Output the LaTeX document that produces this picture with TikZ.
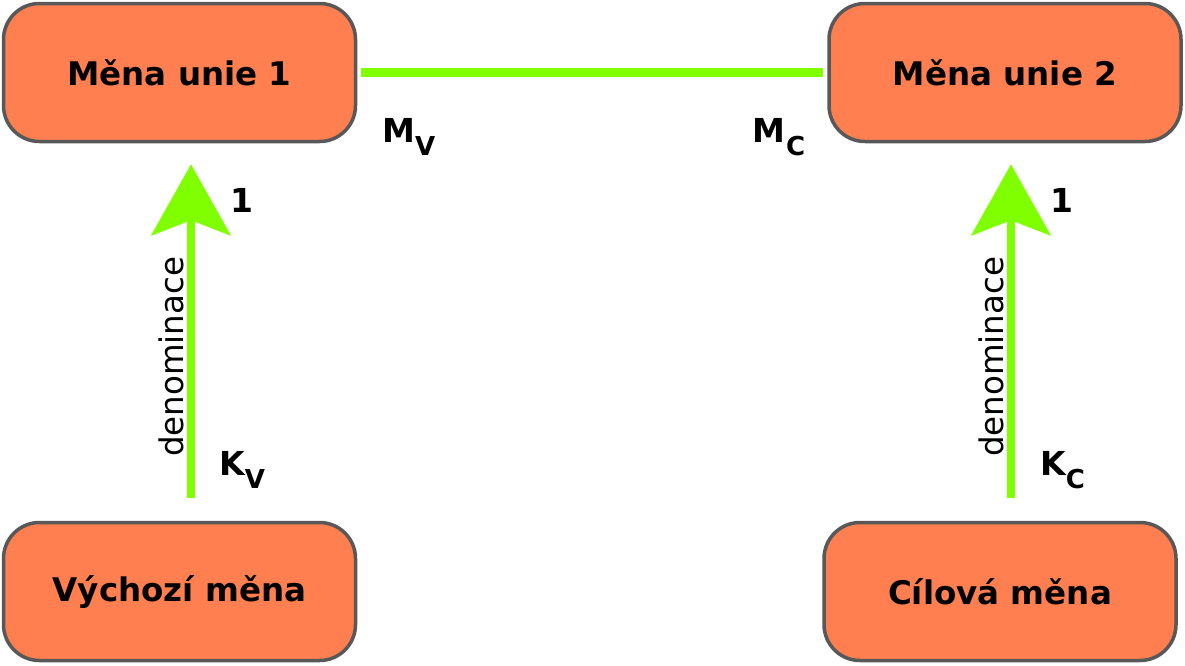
\documentclass[tikz,border=0pt]{standalone}
\usepackage{fontspec}
\setmainfont{DejaVu Sans}
\usetikzlibrary{arrows.meta}
\definecolor{boxfill}{HTML}{FF7F50}
\definecolor{boxline}{HTML}{585858}
\definecolor{lime}{HTML}{80FF00}
\tikzset{
  box/.style={draw=boxline, line width=3.5pt, fill=boxfill, rounded corners=36pt,
    minimum width=352pt, minimum height=138pt, inner sep=0pt,
    font=\bfseries\fontsize{32.5}{39}\selectfont},
  link/.style={draw=lime, line width=8.5pt},
  uparrow/.style={draw=lime, fill=lime, line width=8.5pt,
    -{Stealth[length=71pt, width=79pt, inset=15pt]}},
  lbl/.style={inner sep=0pt, anchor=base west, font=\bfseries\fontsize{33}{40}\selectfont},
  vlbl/.style={inner sep=0pt, anchor=base west, rotate=90, font=\fontsize{32.5}{38}\selectfont},
}
\newcommand{\subtxt}[1]{\raisebox{-13pt}{\fontsize{26}{30}\selectfont #1}}
\begin{document}
\begin{tikzpicture}[x=1pt, y=-1pt]
\useasboundingbox (0,0) rectangle (1185,665);
\node[box] (u1) at (179.5,72.5) {Měna unie 1};
\node[box] (u2) at (1005,72.5) {Měna unie 2};
\node[box] (vm) at (179.5,591.5) {Výchozí měna};
\node[box] (cm) at (1000,591.5) {Cílová měna};
\coordinate (xL) at (191,0);
\coordinate (xR) at (1011,0);
\draw[link, shorten <=4pt, shorten >=4pt] (u1) -- (u2);
\draw[uparrow, shorten <=23pt, shorten >=21pt] (vm.north -| xL) -- (u1.south -| xL);
\draw[uparrow, shorten <=23pt, shorten >=21pt] (cm.north -| xR) -- (u2.south -| xR);
\node[lbl] (mv) at (382,142) {M\subtxt{V}};
\node[lbl] (mc) at (752,142) {M\kern1pt\subtxt{C}};
\node[lbl] (kv) at (219,475) {K\subtxt{V}};
\node[lbl] (kc) at (1040,475) {K\subtxt{C}};
\node[lbl] (oneL) at (230,212) {1};
\node[lbl] (oneR) at (1050,212) {1};
\node[vlbl] (dL) at (183,457) {denominace};
\node[vlbl] (dR) at (1003,457) {denominace};
\end{tikzpicture}
\end{document}
